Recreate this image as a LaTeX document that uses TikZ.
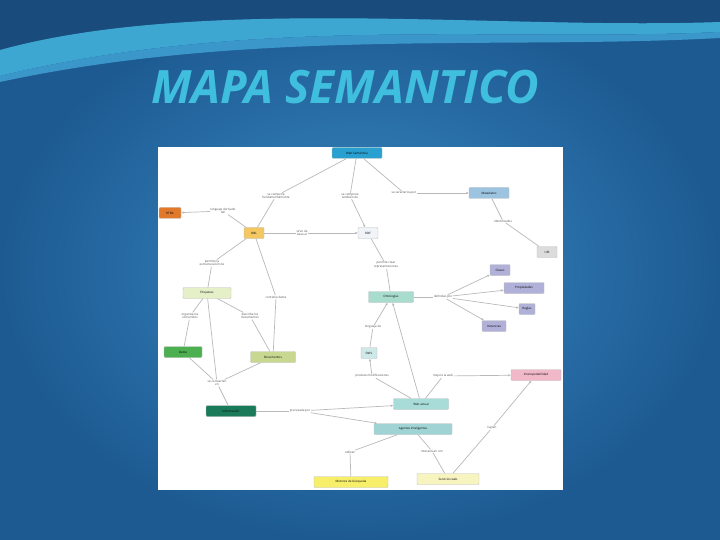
\documentclass[tikz,border=0pt]{standalone}
\usepackage{fontspec}
\setmainfont{Open Sans}
\usetikzlibrary{arrows.meta}
\begin{document}
\begin{tikzpicture}[x=1pt,y=-1pt,
  box/.style={draw=black!25, fill=#1, rounded corners=1pt, line width=0.4pt, minimum height=11pt, inner sep=1pt, font=\fontsize{3}{3.5}\selectfont},
  lk/.style={font=\fontsize{3}{3.5}\selectfont, text=black!70, align=center, inner sep=0.5pt},
  ed/.style={draw=gray!55, line width=0.7pt},
  ar/.style={ed, -{Latex[length=2.5pt,width=2.5pt]}}]
\definecolor{bgin}{HTML}{3A8AC4}
\definecolor{bgout}{HTML}{1D5A92}
\definecolor{ttl}{HTML}{40BEDD}
\definecolor{cTop}{HTML}{2AA0D0}
\definecolor{cOr}{HTML}{E07A2A}
\definecolor{cYa}{HTML}{F3C863}
\definecolor{cRdf}{HTML}{F0F4F8}
\definecolor{cRb}{HTML}{9CC3E0}
\definecolor{cGr}{HTML}{DCDCDC}
\definecolor{cLg}{HTML}{E6F0C8}
\definecolor{cGn}{HTML}{4CAF50}
\definecolor{cOl}{HTML}{C8D890}
\definecolor{cDg}{HTML}{1B7A5A}
\definecolor{cTe}{HTML}{A8DCCC}
\definecolor{cPu}{HTML}{B0B0D8}
\definecolor{cOw}{HTML}{CFE8E8}
\definecolor{cWb}{HTML}{A8DCD8}
\definecolor{cAg}{HTML}{A0D4D4}
\definecolor{cPk}{HTML}{F0B8C8}
\definecolor{cYe}{HTML}{F7EF6A}
\definecolor{cLy}{HTML}{F8F4C0}
\useasboundingbox (0,0) rectangle (720,540);
\shade[inner color=bgin, outer color=bgout] (0,0) rectangle (720,540);
% top wave
\fill[bgout!85!black] (0,0) -- (720,0) -- (720,22) .. controls (500,30) and (200,-5) .. (0,50) -- cycle;
\fill[ttl!55!bgin] (0,50) .. controls (200,-5) and (500,30) .. (720,22) -- (720,32) .. controls (500,42) and (250,15) .. (0,76) -- cycle;
\fill[ttl!25!bgin] (0,76) .. controls (250,15) and (500,42) .. (720,32) -- (720,38) .. controls (500,50) and (250,28) .. (0,82) -- cycle;
\node[font=\fontsize{46}{50}\bfseries\itshape\selectfont, text=ttl, draw=none] (title) at (345,87) {MAPA SEMANTICO};
% panel
\fill[white] (158,147) rectangle (563,490);
% nodes
\node[box=cTop, minimum width=50pt] (top) at (357,153) {Web Semántica};
\node[box=cOr, minimum width=22pt] (or) at (170,213) {HTML};
\node[box=cYa, minimum width=20pt] (ya) at (254,233) {XML};
\node[box=cRdf, minimum width=20pt] (rdf) at (368,233) {RDF};
\node[box=cRb, minimum width=40pt] (rb) at (489,193) {Metadatos};
\node[box=cGr, minimum width=20pt] (gr) at (547,252) {URI};
\node[box=cLg, minimum width=48pt] (lg) at (207,293) {Etiquetas};
\node[box=cGn, minimum width=38pt] (gn) at (183,352) {Datos};
\node[box=cOl, minimum width=45pt] (ol) at (273,357) {Documentos};
\node[box=cDg, minimum width=50pt] (dg) at (231,411) {Información};
\node[box=cTe, minimum width=45pt] (te) at (391,297) {Ontologías};
\node[box=cPu, minimum width=20pt] (p1) at (500,270) {Clases};
\node[box=cPu, minimum width=40pt] (p2) at (524,288) {Propiedades};
\node[box=cPu, minimum width=16pt] (p3) at (527,309) {Reglas};
\node[box=cPu, minimum width=24pt] (p4) at (494,326) {Instancias};
\node[box=cOw, minimum width=16pt] (ow) at (369,353) {OWL};
\node[box=cWb, minimum width=55pt] (wb) at (421,404) {Web actual};
\node[box=cAg, minimum width=78pt] (ag) at (413,429) {Agentes inteligentes};
\node[box=cPk, minimum width=50pt] (pk) at (536,375) {Interoperabilidad};
\node[box=cYe, minimum width=74pt] (ye) at (351,482) {Motores de búsqueda};
\node[box=cLy, minimum width=62pt] (ly) at (448,479) {Servicios web};
% link labels
\node[lk] (l1) at (276,196) {se compone\\fundamentalmente};
\node[lk] (l2) at (350,196) {se compone\\también de};
\node[lk] (l3) at (404,193) {se caracteriza por};
\node[lk] (l4) at (223,211) {lenguaje derivado\\del};
\node[lk] (l5) at (302,233) {sirve de\\base al};
\node[lk] (l6) at (212,263) {permite la\\estructuración de};
\node[lk] (l7) at (276,297) {contiene datos};
\node[lk] (l8) at (190,316) {organiza los\\contenidos};
\node[lk] (l9) at (250,316) {describe los\\documentos};
\node[lk] (l10) at (386,265) {permite crear\\representaciones};
\node[lk] (l11) at (443,297) {definidas por};
\node[lk] (l12) at (373,327) {lenguaje de};
\node[lk] (l13) at (372,376) {produce modificaciones};
\node[lk] (l14) at (443,376) {mejora la web};
\node[lk] (l15) at (217,383) {se convierten\\en};
\node[lk] (l16) at (300,411) {procesada por};
\node[lk] (l17) at (503,221) {identificados};
\node[lk] (l18) at (350,452) {utilizan};
\node[lk] (l19) at (432,451) {interactúan con};
\node[lk] (l20) at (492,428) {logran};
% edges
\draw[ed] (top) -- (l1); \draw[ed] (l1) -- (ya);
\draw[ed] (top) -- (l2); \draw[ar] (l2) -- (rdf);
\draw[ed] (top) -- (l3); \draw[ar] (l3) -- (rb);
\draw[ed] (rb) -- (l17); \draw[ed] (l17) -- (gr);
\draw[ed] (ya) -- (l4); \draw[ar] (l4) -- (or);
\draw[ed] (ya) -- (l5); \draw[ar] (l5) -- (rdf);
\draw[ed] (ya) -- (l6); \draw[ed] (l6) -- (lg);
\draw[ed] (ya) -- (l7); \draw[ed] (l7) -- (ol);
\draw[ed] (rdf) -- (l10); \draw[ed] (l10) -- (te);
\draw[ed] (te) -- (l11);
\draw[ar] (l11) -- (p1); \draw[ar] (l11) -- (p2); \draw[ar] (l11) -- (p3); \draw[ar] (l11) -- (p4);
\draw[ed] (ow) -- (l12); \draw[ar] (l12) -- (te);
\draw[ed] (wb) -- (l13); \draw[ar] (l13) -- (ow);
\draw[ar] (wb) -- (te);
\draw[ed] (wb) -- (l14); \draw[ar] (l14) -- (pk);
\draw[ed] (lg) -- (l8); \draw[ed] (l8) -- (gn);
\draw[ed] (lg) -- (l9); \draw[ed] (l9) -- (ol);
\draw[ed] (lg) -- (l15); \draw[ed] (gn) -- (l15); \draw[ed] (ol) -- (l15); \draw[ed] (l15) -- (dg);
\draw[ed] (dg) -- (l16); \draw[ar] (l16) -- (wb); \draw[ar] (l16) -- (ag);
\draw[ed] (ag) -- (l18); \draw[ed] (l18) -- (ye);
\draw[ed] (ag) -- (l19); \draw[ed] (l19) -- (ly);
\draw[ed] (ly) -- (l20); \draw[ar] (l20) -- (pk);
\end{tikzpicture}
\end{document}
